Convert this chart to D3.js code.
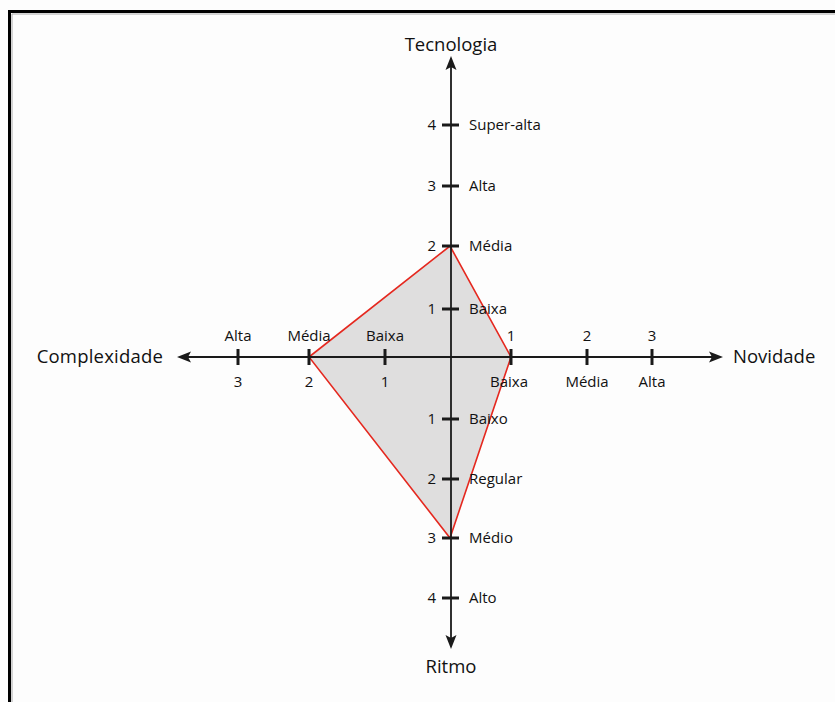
<!DOCTYPE html>
<html>
<head>
<meta charset="utf-8">
<script src="https://cdn.jsdelivr.net/npm/d3@7"></script>
<style>
  html, body { margin: 0; padding: 0; background: #fdfdfd; }
  svg { display: block; }
  text { font-family: "Open Sans", "Noto Sans", sans-serif; fill: #111; }
</style>
</head>
<body>
<svg id="chart" width="835" height="702"></svg>
<script>
// ---- Data ----
const axisNames = ["Tecnologia", "Novidade", "Ritmo", "Complexidade"];
const tecnologiaTicks = [1, 2, 3, 4];
const tecnologiaLabels = ["Baixa", "Média", "Alta", "Super-alta"];
const ritmoTicks = [1, 2, 3, 4];
const ritmoLabels = ["Baixo", "Regular", "Médio", "Alto"];
const novidadeTicks = [1, 2, 3];
const novidadeLabels = ["Baixa", "Média", "Alta"];
const complexidadeTicks = [1, 2, 3];
const complexidadeLabels = ["Baixa", "Média", "Alta"];
// project profile values on each axis
const profileValues = [2, 1, 3, 2]; // Tecnologia, Novidade, Ritmo, Complexidade

// ---- Layout ----
const svg = d3.select("#chart");
const cx = 450, cy = 357;

// per-axis scales (piecewise, as drawn in the original)
const yTec = d3.scaleLinear().domain([0, 1, 2, 3, 4]).range([cy, 309, 246, 186, 125]);
const yRit = d3.scaleLinear().domain([0, 1, 2, 3, 4]).range([cy, 419, 479, 538, 598]);
const xNov = d3.scaleLinear().domain([0, 1, 2, 3]).range([cx, 511, 587, 652]);
const xCom = d3.scaleLinear().domain([0, 1, 2, 3]).range([cx, 385, 309, 238]);

// frame
svg.append("rect").attr("x", 0).attr("y", 0).attr("width", 835).attr("height", 702).attr("fill", "#fdfdfd");
svg.append("path")
  .attr("d", "M9.5,702 L9.5,11.5 L835,11.5")
  .attr("fill", "none").attr("stroke", "#000").attr("stroke-width", 3);
svg.append("path")
  .attr("d", "M12,702 L12,14 L835,14")
  .attr("fill", "none").attr("stroke", "#aaa").attr("stroke-width", 1);

// profile polygon
const pts = [
  [cx, yTec(profileValues[0])],
  [xNov(profileValues[1]), cy],
  [cx, yRit(profileValues[2])],
  [xCom(profileValues[3]), cy]
];
svg.append("path")
  .attr("d", d3.line()(pts) + "Z")
  .attr("fill", "#dfdede")
  .attr("stroke", "#e5281f")
  .attr("stroke-width", 1.6)
  .attr("stroke-linejoin", "miter");

// axes lines
const axisColor = "#1a1a1a";
svg.append("line").attr("x1", 186).attr("x2", 714).attr("y1", cy).attr("y2", cy)
  .attr("stroke", axisColor).attr("stroke-width", 1.8);
svg.append("line").attr("x1", cx + 1).attr("x2", cx + 1).attr("y1", 65).attr("y2", 640)
  .attr("stroke", axisColor).attr("stroke-width", 1.8);

// arrowheads
function arrow(x, y, angle) {
  svg.append("path")
    .attr("d", "M0,0 L-14,-5.5 L-11,0 L-14,5.5 Z")
    .attr("transform", `translate(${x},${y}) rotate(${angle})`)
    .attr("fill", axisColor);
}
arrow(723, cy, 0);
arrow(177, cy, 180);
arrow(cx + 1, 56, -90);
arrow(cx + 1, 649, 90);

// ticks on horizontal axis
function hTicks(ticks, scale) {
  svg.selectAll(null).data(ticks).enter().append("line")
    .attr("x1", d => scale(d)).attr("x2", d => scale(d))
    .attr("y1", cy - 8).attr("y2", cy + 8)
    .attr("stroke", axisColor).attr("stroke-width", 3);
}
hTicks(novidadeTicks, xNov);
hTicks(complexidadeTicks, xCom);

function vTicks(ticks, scale) {
  svg.selectAll(null).data(ticks).enter().append("line")
    .attr("x1", cx - 8).attr("x2", cx + 9)
    .attr("y1", d => scale(d)).attr("y2", d => scale(d))
    .attr("stroke", axisColor).attr("stroke-width", 3);
}
vTicks(tecnologiaTicks, yTec);
vTicks(ritmoTicks, yRit);

// tick labels, horizontal axis
const fs = 15;
const fw = 500;
// Novidade: numbers above, names below
svg.selectAll(null).data(novidadeTicks).enter().append("text")
  .attr("x", d => xNov(d)).attr("y", 341).attr("text-anchor", "middle")
  .attr("font-size", fs).attr("font-weight", fw).text(d => d);
svg.selectAll(null).data(novidadeTicks).enter().append("text")
  .attr("x", (d, i) => xNov(d) - (i === 0 ? 2 : 0)).attr("y", 387).attr("text-anchor", "middle")
  .attr("font-size", fs).attr("font-weight", fw).text((d, i) => novidadeLabels[i]);
// Complexidade: names above, numbers below
svg.selectAll(null).data(complexidadeTicks).enter().append("text")
  .attr("x", d => xCom(d)).attr("y", 341).attr("text-anchor", "middle")
  .attr("font-size", fs).attr("font-weight", fw).text((d, i) => complexidadeLabels[i]);
svg.selectAll(null).data(complexidadeTicks).enter().append("text")
  .attr("x", d => xCom(d)).attr("y", 387).attr("text-anchor", "middle")
  .attr("font-size", fs).attr("font-weight", fw).text(d => d);

// tick labels, vertical axis
function vLabels(ticks, labels, scale) {
  svg.selectAll(null).data(ticks).enter().append("text")
    .attr("x", 436).attr("y", d => scale(d) + 5).attr("text-anchor", "end")
    .attr("font-size", fs).attr("font-weight", fw).text(d => d);
  svg.selectAll(null).data(ticks).enter().append("text")
    .attr("x", 469).attr("y", d => scale(d) + 5).attr("text-anchor", "start")
    .attr("font-size", fs).attr("font-weight", fw).text((d, i) => labels[i]);
}
vLabels(tecnologiaTicks, tecnologiaLabels, yTec);
vLabels(ritmoTicks, ritmoLabels, yRit);

// axis names
const nfs = 18.5;
svg.append("text").attr("x", 451).attr("y", 51).attr("text-anchor", "middle")
  .attr("font-size", nfs).attr("font-weight", fw).text(axisNames[0]);
svg.append("text").attr("x", 733).attr("y", 363).attr("text-anchor", "start")
  .attr("font-size", nfs).attr("font-weight", fw).text(axisNames[1]);
svg.append("text").attr("x", 451).attr("y", 673).attr("text-anchor", "middle")
  .attr("font-size", nfs).attr("font-weight", fw).text(axisNames[2]);
svg.append("text").attr("x", 163).attr("y", 363).attr("text-anchor", "end")
  .attr("font-size", nfs).attr("font-weight", fw).attr("letter-spacing", 0.2).text(axisNames[3]);
</script>
</body>
</html>
